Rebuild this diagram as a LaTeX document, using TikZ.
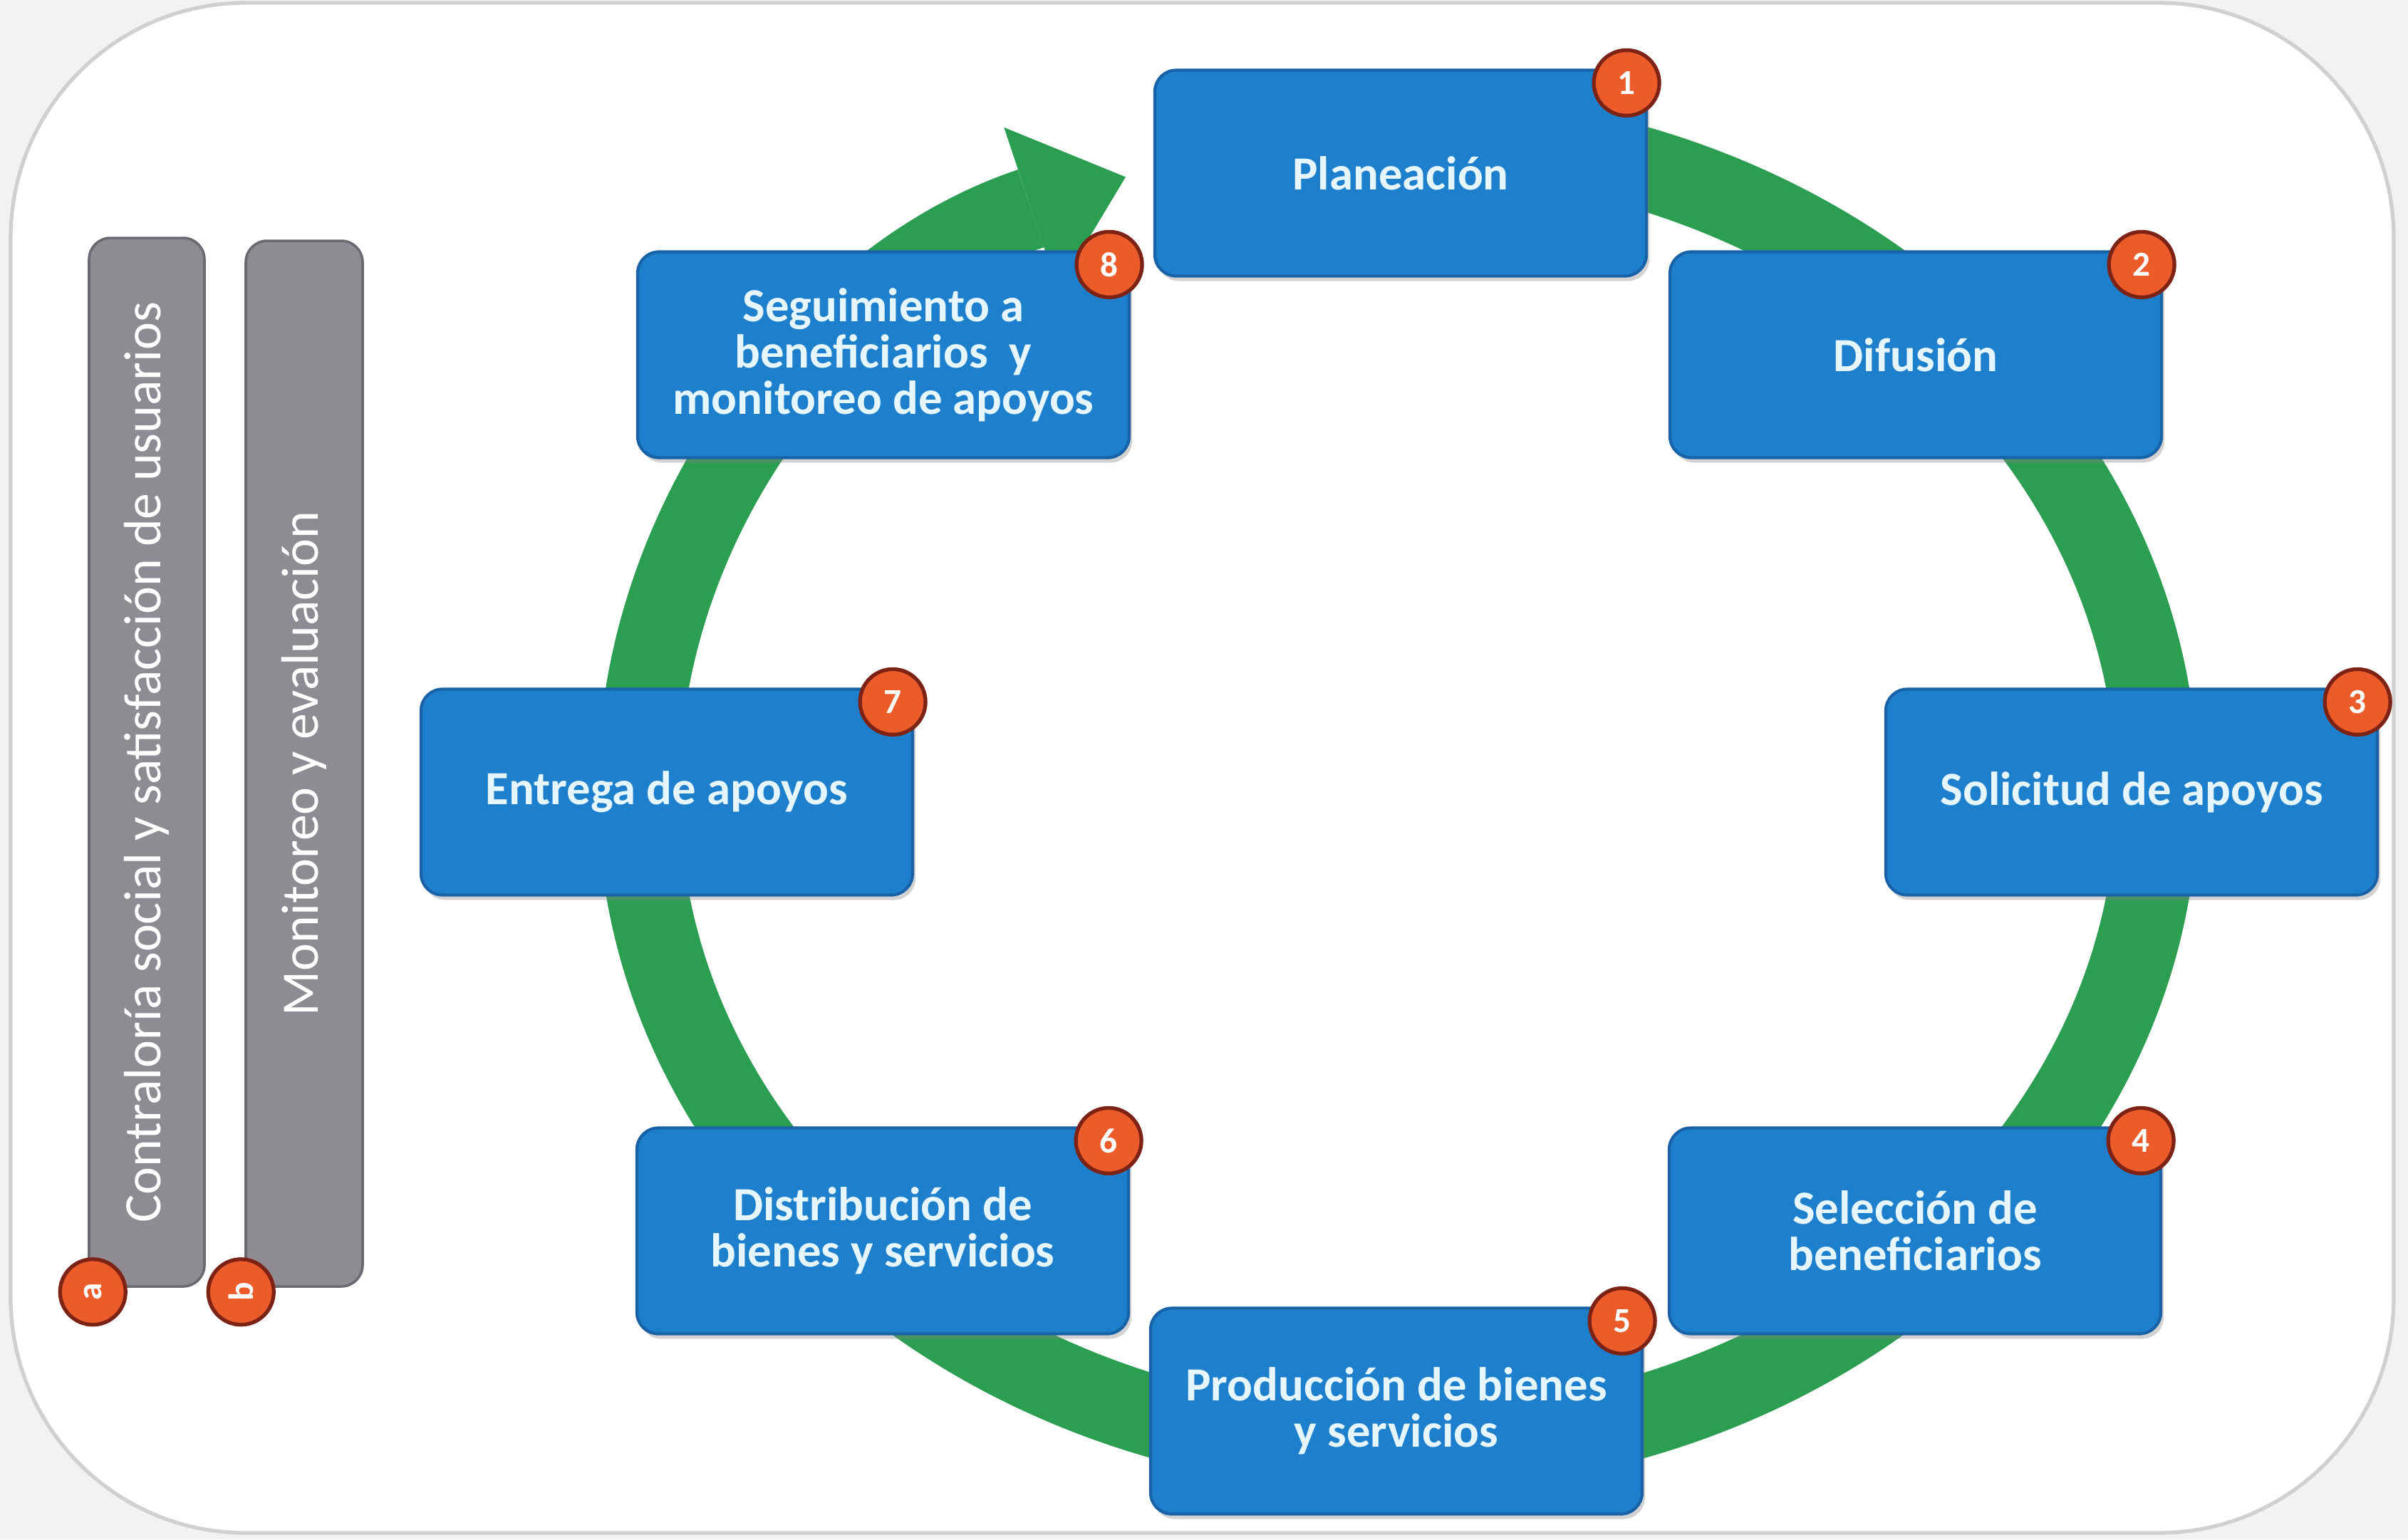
\documentclass[tikz,border=0pt]{standalone}
\usepackage{fontspec}
\setmainfont{Carlito}
\usepackage{tikz}
\usetikzlibrary{arrows.meta,shadows}

\definecolor{ringgreen}{RGB}{44,158,82}
\definecolor{boxblue}{RGB}{30,128,204}
\definecolor{boxedge}{RGB}{24,98,168}
\definecolor{boxtext}{RGB}{230,246,255}
\definecolor{bargray}{RGB}{143,139,147}
\definecolor{baredge}{RGB}{108,104,111}
\definecolor{badgeorange}{RGB}{236,92,42}
\definecolor{badgerim}{RGB}{125,35,22}
\definecolor{pagegray}{RGB}{242,242,242}
\definecolor{framegray}{RGB}{208,208,208}

\begin{document}
\begin{tikzpicture}[x=1cm,y=1cm]
        \tikzstyle{stage}=[rectangle,rounded corners=0.3cm,fill=boxblue,draw=boxedge,line width=1.2pt,minimum width=6.9cm,minimum height=2.89cm,text=boxtext,align=center,font=\fontsize{19}{18.5}\selectfont\bfseries,drop shadow={shadow xshift=0.04cm,shadow yshift=-0.07cm,opacity=0.35}]
        \tikzstyle{badge}=[circle,fill=badgeorange,draw=badgerim,line width=1.5pt,minimum size=0.92cm,inner sep=0pt,text=white,font=\fontsize{14}{14}\selectfont\bfseries]
        \tikzstyle{bar}=[rectangle,rounded corners=0.3cm,fill=bargray,draw=baredge,line width=1pt,rotate=90,text=white,font=\fontsize{21}{21}\selectfont]
        \tikzstyle{corner}=[xshift=-0.3cm,yshift=-0.2cm]

        \useasboundingbox (0,0) rectangle (33.8,-21.61);
        \fill[pagegray] (0,0) rectangle (33.8,-21.61);
        \draw[framegray,line width=1.5pt,fill=white,rounded corners=3.3cm] (0.15,-0.04) rectangle (33.6,-21.52);

        % green cycle
        \coordinate (c) at (19.62,-11.12);
        \draw[ringgreen,line width=1.15cm,-{Triangle[length=1.4cm,width=2.4cm,line width=0pt]}]
        ([shift={(95:10.66 and 9.25)}]c) arc[start angle=95,end angle=-249,x radius=10.66cm,y radius=9.25cm];

        % stages
        \node[stage] (1) at (19.66,-2.43)  {Planeación};
        \node[stage] (2) at (26.89,-4.98)  {Difusión};
        \node[stage] (3) at (29.92,-11.12) {Solicitud de apoyos};
        \node[stage] (4) at (26.88,-17.28) {Selección de\\beneficiarios};
        \node[stage] (5) at (19.60,-19.81) {Producción de bienes\\y servicios};
        \node[stage] (6) at (12.39,-17.28) {Distribución de\\bienes y servicios};
        \node[stage] (7) at (9.36,-11.12)  {Entrega de apoyos};
        \node[stage] (8) at (12.40,-4.98)  {Seguimiento a\\beneficiarios \ y\\monitoreo de apoyos};

        \foreach \n in {1,...,8}
        \node[badge] (n\n) at ([corner]\n.north east) {\n};

        % side bars
        \node[bar,minimum width=14.72cm,minimum height=1.62cm] (a) at (2.06,-10.70) {Contraloría social y satisfacción de usuarios};
        \node[bar,minimum width=14.68cm,minimum height=1.64cm] (b) at (4.27,-10.72) {Monitoreo y evaluación};
        \node[badge,rotate=90] (na) at ([xshift=0.07cm,yshift=-0.06cm]a.north west) {a};
        \node[badge,rotate=90] (nb) at ([xshift=-0.05cm,yshift=-0.06cm]b.north west) {b};
\end{tikzpicture}
\end{document}
